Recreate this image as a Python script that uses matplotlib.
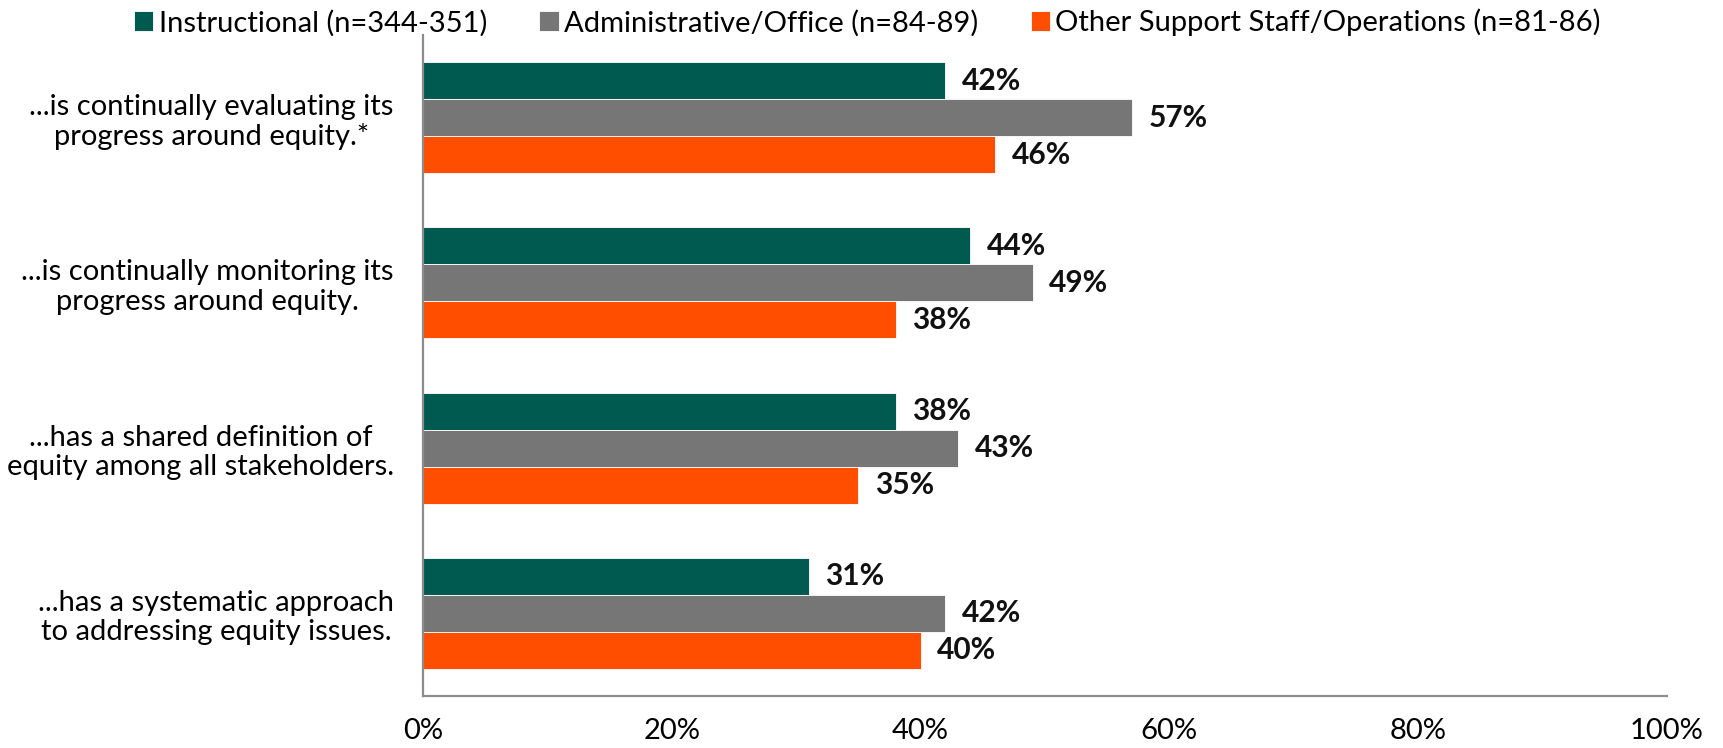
import numpy as np
import matplotlib.pyplot as plt

categories = [
    "...is continually evaluating its\nprogress around equity.*",
    "...is continually monitoring its\nprogress around equity.",
    "...has a shared definition of\nequity among all stakeholders.",
    "...has a systematic approach\nto addressing equity issues.",
]
series_names = [
    "Instructional (n=344-351)",
    "Administrative/Office (n=84-89)",
    "Other Support Staff/Operations (n=81-86)",
]
instructional = [42, 44, 38, 31]
administrative = [57, 49, 43, 42]
other_support = [46, 38, 35, 40]
x_ticks = [0, 20, 40, 60, 80, 100]

colors = ["#005A4F", "#767676", "#FF4E00"]

plt.rcParams["font.family"] = ["Lato", "DejaVu Sans"]

fig = plt.figure(figsize=(17.23, 7.48), dpi=100)
ax = fig.add_axes([0.2455, 0.0695, 0.722, 0.8837])

y = np.arange(len(categories))
h = 0.224
series = [instructional, administrative, other_support]
for i, (vals, name, c) in enumerate(zip(series, series_names, colors)):
    pos = y + (i - 1) * h
    bars = ax.barh(pos, vals, height=h, color=c, edgecolor="white",
                   linewidth=0.6, label=name)
    for b, v in zip(bars, vals):
        ax.annotate(f"{v}%", (v, b.get_y() + b.get_height() / 2),
                    xytext=(12, 0), textcoords="offset points",
                    ha="left", va="center", fontsize=21.5, fontweight="bold",
                    color="#111111")

ax.set_xlim(0, 100)
ax.set_ylim(3.5, -0.5)
ax.set_xticks(x_ticks)
ax.set_xticklabels([f"{t}%" for t in x_ticks], fontsize=21)
ax.set_yticks(y)
ax.set_yticklabels(categories, fontsize=21, multialignment="center",
                   linespacing=1.15)
ax.tick_params(axis="x", length=0, pad=16)
ax.tick_params(axis="y", length=0, pad=21)

for s in ["top", "right"]:
    ax.spines[s].set_visible(False)
for s in ["left", "bottom"]:
    ax.spines[s].set_color("#8C8C8C")
    ax.spines[s].set_linewidth(1.6)

fig.legend(loc="center left", bbox_to_anchor=(0.0778, 0.970), ncol=3,
           frameon=False, prop={"size": 21},
           handlelength=0.66, handleheight=0.66, handletextpad=0.18,
           columnspacing=1.8, borderpad=0, borderaxespad=0)

fig.savefig("out.png", dpi=100)
